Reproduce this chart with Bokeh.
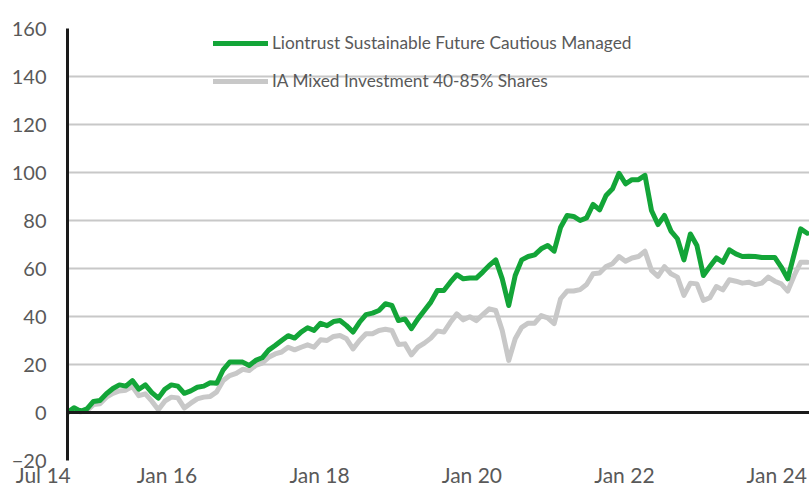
import pandas as pd
from bokeh.plotting import figure
from bokeh.models import (Range1d, FixedTicker, DatetimeTickFormatter, Span,
                          Legend, LegendItem, ColumnDataSource)
from bokeh.embed import file_html
from bokeh.resources import INLINE

# ---- data (cumulative % performance) ----
start_date = "2014-09-11"
end_date = "2024-05-26"

fund_name = "Liontrust Sustainable Future Cautious Managed"
sector_name = "IA Mixed Investment 40-85% Shares"

fund = [0, 2, 0.5, 1.5, 4.6, 5, 7.8, 10, 11.5, 11, 13.3, 9.7, 11.5, 8.3, 6,
        9.7, 11.5, 11, 8, 9, 10.5, 11, 12.4, 12.2, 17.8, 21, 21, 21, 19.6,
        21.7, 22.8, 26, 27.9, 30, 32, 31, 33.5, 35.3, 34.2, 37.2, 36.2, 37.9,
        38.3, 36.2, 33.5, 37.6, 40.8, 41.4, 42.5, 45.3, 44.6, 38.3, 39, 34.9,
        39, 42.5, 46, 50.8, 50.8, 54.3, 57.4, 55.7, 56, 56, 58.5, 61.3, 63.6,
        55.7, 44.6, 57.1, 63.6, 65, 65.7, 68.2, 69.6, 67.2, 77.2, 82.1, 81.7,
        80, 81.1, 86.7, 84.4, 90.4, 93.2, 99.7, 95.3, 97, 97, 98.8, 84.2,
        78.3, 82.1, 75.6, 72.4, 63.6, 74.4, 69.6, 57.1, 60.8, 64.4, 62.6,
        67.8, 66.1, 65, 65.1, 65, 64.6, 64.6, 64.6, 60.6, 55.7, 66.1, 76.5,
        74.7]

sector = [0, 1.2, 0.3, 0.8, 3.3, 3.6, 6.4, 8, 9, 9.3, 10.8, 7, 7.8, 4.7, 1.1,
          4.7, 6.4, 6.1, 1.9, 3.9, 5.7, 6.4, 6.7, 8.6, 13.3, 15.4, 16.3, 18,
          17.5, 19.6, 20.6, 23, 24.4, 25.2, 27.2, 26.1, 27.2, 28.2, 27.2,
          30.3, 30, 31.7, 32.1, 30.7, 26.5, 30, 32.8, 32.8, 34.2, 34.7, 34.2,
          28.3, 28.6, 24, 27.2, 28.9, 31, 34, 33.5, 37.6, 41.1, 38.6, 39.9,
          38.3, 40.8, 43.2, 42.5, 34.2, 21.7, 30.7, 35.5, 37.2, 37.2, 40.4,
          39.4, 37, 47.4, 50.6, 50.6, 51.2, 53.3, 57.8, 58.1, 60.8, 62, 65,
          63, 64.4, 65, 67.2, 59.2, 56.7, 60.8, 57.8, 56.4, 48.8, 53.9, 53.6,
          46.7, 47.8, 52.5, 51.1, 55.3, 54.7, 53.9, 54.3, 53.3, 53.9, 56.4,
          54.7, 53.6, 50.6, 57.1, 62.6, 62.6]

tick_dates = ["2016-01-01", "2018-01-01", "2020-01-01", "2022-01-01", "2024-01-01"]
first_label = "Jul 14"
y_ticks = [-20, 0, 20, 40, 60, 80, 100, 120, 140, 160]

dates = pd.date_range(start_date, end_date, periods=len(fund))
src = ColumnDataSource(dict(date=dates, fund=fund, sector=sector))

FONT = "Lato"
TXT = "#595959"
GREEN = "#13a538"
GREY = "#c8c8c8"

p = figure(width=809, height=489, output_backend="svg", toolbar_location=None,
           x_axis_type="datetime",
           x_range=Range1d(dates[0], dates[-1] + pd.Timedelta(days=11)),
           y_range=Range1d(y_ticks[0], y_ticks[-1]),
           min_border_left=67, min_border_right=0, min_border_top=28,
           min_border_bottom=29, outline_line_color=None)

p.xgrid.visible = False
p.ygrid.ticker = FixedTicker(ticks=y_ticks)
p.ygrid.grid_line_color = GREY
p.ygrid.grid_line_width = 2

p.yaxis.ticker = FixedTicker(ticks=y_ticks)
p.yaxis.axis_line_color = "#1a1a1a"
p.yaxis.axis_line_width = 3
p.yaxis.major_tick_line_color = None
p.yaxis.major_tick_out = 0
p.yaxis.major_tick_in = 0
p.yaxis.minor_tick_line_color = None
p.yaxis.minor_tick_out = 0
p.yaxis.major_label_standoff = 21
p.yaxis.major_label_text_font = FONT
p.yaxis.major_label_text_font_size = "20px"
p.yaxis.major_label_text_color = TXT

# x ticks: the series start (labelled as the period start) and every other January
start_ms = dates[0].value // 10**6
tick_ms = [start_ms] + [pd.Timestamp(d).value // 10**6 for d in tick_dates]
p.xaxis.ticker = FixedTicker(ticks=tick_ms)
fmt = "%b %y"
p.xaxis.formatter = DatetimeTickFormatter(days=fmt, months=fmt, years=fmt,
                                          hours=fmt, minutes=fmt, seconds=fmt)
# first label sits to the left of the axis start (padding keeps it right-aligned)
p.xaxis.major_label_overrides = {start_ms: first_label + "\u00a0" * 9}
p.xaxis.axis_line_color = None
p.xaxis.major_tick_line_color = None
p.xaxis.major_tick_out = 0
p.xaxis.major_tick_in = 0
p.xaxis.minor_tick_line_color = None
p.xaxis.minor_tick_out = 0
p.xaxis.major_label_standoff = 1
p.xaxis.major_label_text_font = FONT
p.xaxis.major_label_text_font_size = "21px"
p.xaxis.major_label_text_color = TXT

p.add_layout(Span(location=0, dimension="width", line_color="#1a1a1a", line_width=3))

r_sector = p.line("date", "sector", source=src, line_color=GREY, line_width=5,
                  line_join="round", line_cap="round")
r_fund = p.line("date", "fund", source=src, line_color=GREEN, line_width=5,
                line_join="round", line_cap="round")

legend = Legend(items=[LegendItem(label=fund_name, renderers=[r_fund]),
                       LegendItem(label=sector_name, renderers=[r_sector])],
                location=(146, 369), background_fill_alpha=0,
                border_line_color=None, padding=0, margin=0, spacing=17,
                glyph_width=55, glyph_height=20, label_height=20,
                label_standoff=4, label_text_font=FONT,
                label_text_font_size="17.3px", label_text_color=TXT)
p.add_layout(legend)

open("out.html", "w").write(file_html(p, INLINE))
